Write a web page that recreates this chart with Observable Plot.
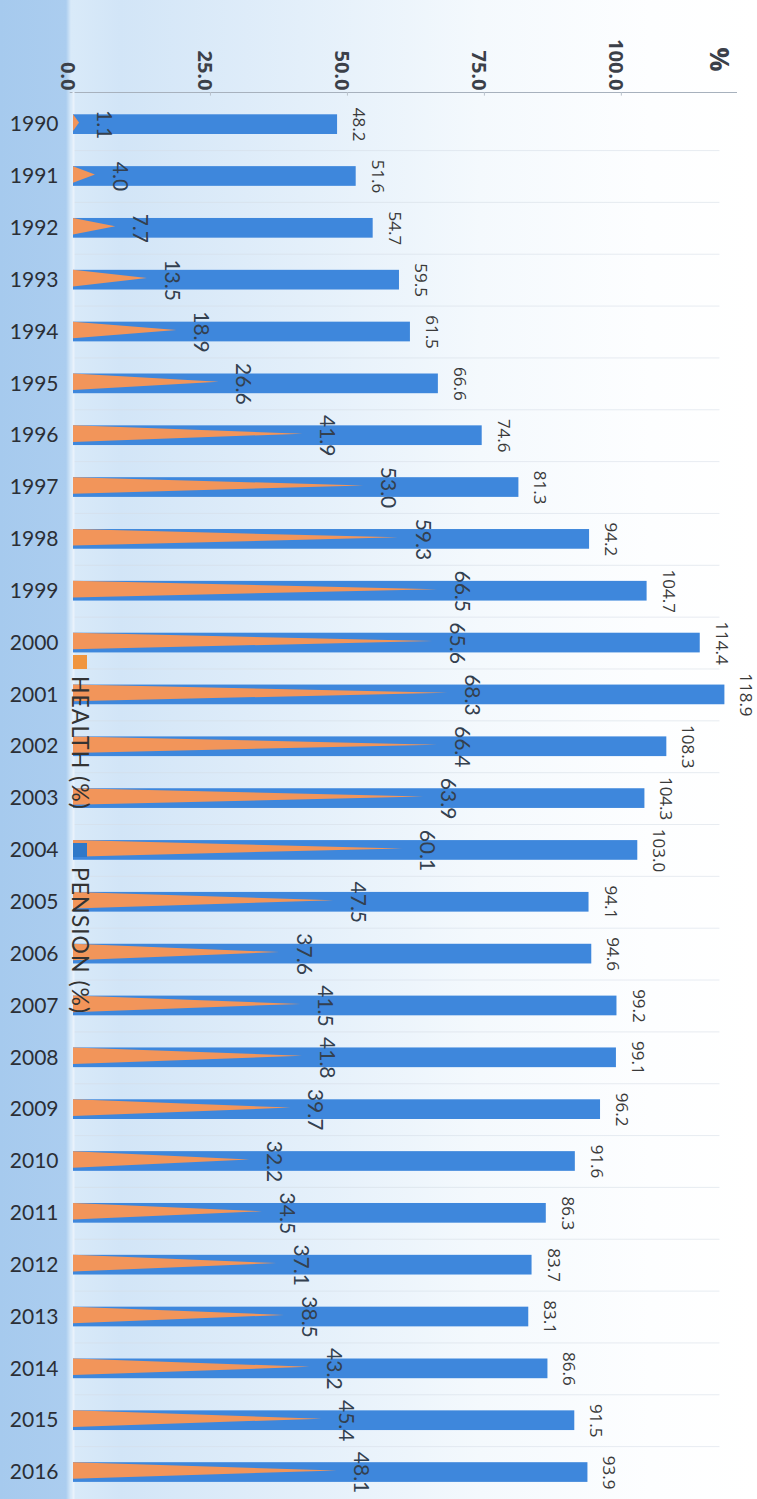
<!DOCTYPE html>
<html>
<head>
<meta charset="utf-8">
<script src="https://cdn.jsdelivr.net/npm/d3@7"></script>
<script src="https://cdn.jsdelivr.net/npm/@observablehq/plot@0.6"></script>
<style>
  html, body { margin: 0; padding: 0; }
  #wrap {
    position: relative; width: 757px; height: 1499px; overflow: hidden;
    background: linear-gradient(90deg, #a6caee 0px, #abcdef 66px, #d9eaf9 71px, #d2e5f7 120px, #e3effa 300px, #f4f9fd 480px, #fdfeff 650px, #ffffff 757px);
  }
  #chart { position: absolute; left: 0; top: 0; }
  .leg { position: absolute; font-family: Lato, sans-serif; font-size: 23px; color: #333; writing-mode: vertical-rl; letter-spacing: 1px; }
  .sw { position: absolute; width: 14px; height: 14px; }
</style>
</head>
<body>
<div id="wrap">
  <div id="chart"></div>
  <div class="sw" style="left:73px; top:655px; background:#f0953f;"></div>
  <div class="leg" style="left:67px; top:676px;">HEALTH (%)</div>
  <div class="sw" style="left:73px; top:843px; background:#2f78c8;"></div>
  <div class="leg" style="left:67px; top:867px;">PENSION (%)</div>
</div>
<script>
const years = [1990,1991,1992,1993,1994,1995,1996,1997,1998,1999,2000,2001,2002,2003,2004,2005,2006,2007,2008,2009,2010,2011,2012,2013,2014,2015,2016];
const health = [1.1,4.0,7.7,13.5,18.9,26.6,41.9,53.0,59.3,66.5,65.6,68.3,66.4,63.9,60.1,47.5,37.6,41.5,41.8,39.7,32.2,34.5,37.1,38.5,43.2,45.4,48.1];
const pension = [48.2,51.6,54.7,59.5,61.5,66.6,74.6,81.3,94.2,104.7,114.4,118.9,108.3,104.3,103.0,94.1,94.6,99.2,99.1,96.2,91.6,86.3,83.7,83.1,86.6,91.5,93.9];
const xTicks = [0, 25, 50, 75, 100];

const data = years.map((year, i) => ({year, health: health[i], pension: pension[i]}));
const yDomain = [1989.38, 2016.52];
const xDomain = [0, 121.2];

// triangle outline for each health value (base at 0, apex at the value)
const tri = data.flatMap(d => [
  {year: d.year, y: d.year - 0.19, x: 0},
  {year: d.year, y: d.year - 0.03, x: d.health},
  {year: d.year, y: d.year + 0.13, x: 0}
]);

const chart = Plot.plot({
  width: 757,
  height: 1499,
  marginTop: 92,
  marginLeft: 73,
  marginRight: 20,
  marginBottom: 0,
  x: {type: "linear", domain: xDomain, axis: null},
  y: {type: "linear", domain: yDomain, reverse: true, axis: null},
  style: {background: "transparent", fontFamily: "Lato, sans-serif", overflow: "visible"},
  marks: [
    Plot.ruleY(years.slice(0, -1), {y: d => d + 0.5, x1: 0, x2: 118, stroke: "#d6dde6", strokeWidth: 1, strokeOpacity: 0.55}),
    Plot.ruleY([yDomain[0]], {x1: -0.6, x2: xDomain[1], stroke: "#a7b1bd", strokeWidth: 1.2}),
    Plot.ruleX(xTicks, {x: d => d, y1: yDomain[0], y2: yDomain[0] + 0.07, stroke: "#b9c2cc"}),
    Plot.ruleX([0], {stroke: "#e9f2fb", strokeWidth: 2, y1: yDomain[0], y2: yDomain[1]}),
    Plot.rectX(data, {y1: d => d.year - 0.19, y2: d => d.year + 0.19, x1: 0, x2: "pension", fill: "#3e87dc"}),
    Plot.areaX(tri, {y: "y", x1: 0, x2: "x", z: "year", fill: "#f2955a", curve: "linear"}),
    Plot.text(data, {x: "pension", y: "year", text: d => d.pension.toFixed(1), rotate: 90, dx: 21, fontSize: 17, fill: "#3a3a3a", fontFamily: "'Open Sans', sans-serif"}),
    Plot.text(data, {x: "health", y: "year", text: d => d.health.toFixed(1), rotate: 90, dx: 24, fontSize: 21, fill: "#33404f", fontFamily: "Lato, sans-serif"}),
    Plot.text(xTicks, {x: d => d, frameAnchor: "top", text: d => d.toFixed(1), rotate: 90, textAnchor: "end", dx: 2, dy: -2, fontSize: 20, fontWeight: "bold", fill: "#3b4049", fontFamily: "'Open Sans', sans-serif"}),
    Plot.text(["%"], {x: () => 119.7, frameAnchor: "top", text: d => d, rotate: 90, textAnchor: "end", dy: -21, fontSize: 27, fontWeight: "bold", fill: "#3b4049", fontFamily: "'Open Sans', sans-serif"}),
    Plot.text(years, {y: d => d, frameAnchor: "left", text: d => String(d), textAnchor: "end", dx: -15, fontSize: 21, fill: "#2b2f36", fontFamily: "Lato, sans-serif"})
  ]
});
document.getElementById("chart").appendChild(chart);
</script>
</body>
</html>
